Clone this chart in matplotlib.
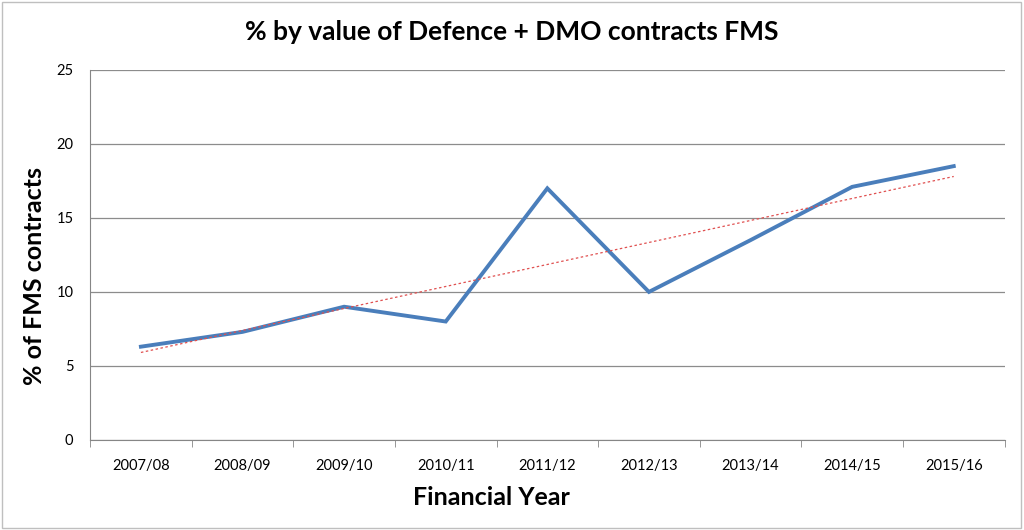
import numpy as np
import matplotlib.pyplot as plt

years = ["2007/08", "2008/09", "2009/10", "2010/11", "2011/12",
         "2012/13", "2013/14", "2014/15", "2015/16"]
pct_fms = [6.3, 7.3, 9.0, 8.0, 17.0, 10.0, 13.5, 17.1, 18.5]

plt.rcParams["font.family"] = ["Lato", "DejaVu Sans"]

x = np.arange(len(years))
slope, intercept = np.polyfit(x, pct_fms, 1)

fig = plt.figure(figsize=(10.24, 5.3), dpi=100)
fig.patches.append(plt.Rectangle((0.002, 0.003), 0.995, 0.993, transform=fig.transFigure,
                                 fill=False, edgecolor="#bfbfbf", linewidth=1))
ax = fig.add_axes([0.088, 0.170, 0.893, 0.698])

ax.plot(x, pct_fms, color="#4a7ebb", linewidth=2.8, solid_joinstyle="miter", zorder=3)
ax.plot(x, slope * x + intercept, color="#e05050", linewidth=0.9,
        linestyle=(0, (2, 2)), zorder=4)

ax.set_xlim(-0.5, len(years) - 0.5)
ax.set_ylim(0, 25)
ax.set_yticks([0, 5, 10, 15, 20, 25])
ax.set_xticks(x)
ax.set_xticklabels(years)
ax.set_xticks(np.arange(-0.5, len(years), 1), minor=True)
ax.tick_params(axis="x", which="major", length=0, pad=14, labelsize=10.5)
ax.tick_params(axis="x", which="minor", length=5, color="#868686")
ax.tick_params(axis="y", length=0, pad=12, labelsize=10.5)
ax.grid(axis="y", color="#8c8c8c", linewidth=0.9)
ax.set_axisbelow(True)

for side in ["top", "right"]:
    ax.spines[side].set_visible(False)
ax.spines["left"].set_color("#868686")
ax.spines["bottom"].set_color("#868686")

fig.text(0.5, 0.94, "% by value of Defence + DMO contracts FMS",
         ha="center", va="center", fontsize=19, fontweight="bold")
fig.text(0.48, 0.062, "Financial Year", ha="center", va="center",
         fontsize=18, fontweight="bold")
fig.text(0.034, 0.479, "% of FMS contracts", ha="center", va="center",
         rotation=90, fontsize=18, fontweight="bold")

fig.savefig("out.png", dpi=100)
